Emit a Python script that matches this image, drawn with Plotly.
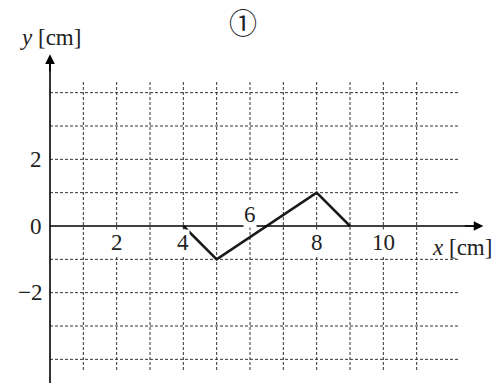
import plotly.graph_objects as go

# data
wave_x = [4, 5, 8, 9]
wave_y = [0, -1, 1, 0]
x_ticks = [2, 4, 6, 8, 10]
x_tick_labels = ["2", "4", "6", "8", "10"]
y_ticks = [2, 0, -2]
y_tick_labels = ["2", "0", "\u22122"]
grid_x = [1, 2, 3, 4, 5, 6, 7, 8, 9, 10, 11]
grid_y = [-4, -3, -2, -1, 1, 2, 3, 4]

FONT = "Liberation Serif, Times New Roman, DejaVu Serif, serif"
fig = go.Figure()

shapes = []
for gx in grid_x:
    shapes.append(dict(type="line", x0=gx, x1=gx, y0=-4.32, y1=4.38, xref="x", yref="y",
                       line=dict(color="#333", width=1, dash="3px,2px"), layer="below"))
for gy in grid_y:
    shapes.append(dict(type="line", x0=0, x1=12.25, y0=gy, y1=gy, xref="x", yref="y",
                       line=dict(color="#333", width=1, dash="3px,2px"), layer="below"))
shapes.append(dict(type="line", x0=0, x1=0, y0=-4.75, y1=5.0, xref="x", yref="y",
                   line=dict(color="black", width=1.6)))
shapes.append(dict(type="line", x0=0, x1=12.9, y0=0, y1=0, xref="x", yref="y",
                   line=dict(color="black", width=1.6)))

fig.add_trace(go.Scatter(x=wave_x, y=wave_y, mode="lines",
                         line=dict(color="#1a1a1a", width=2.6), showlegend=False,
                         hoverinfo="skip"))

ann = []
ann.append(dict(x=0, y=5.15, ax=0, ay=4.6, xref="x", yref="y", axref="x", ayref="y",
                showarrow=True, arrowhead=2, arrowsize=1.2, arrowwidth=1.6, arrowcolor="black", text=""))
ann.append(dict(x=13.0, y=0, ax=12.4, ay=0, xref="x", yref="y", axref="x", ayref="y",
                showarrow=True, arrowhead=2, arrowsize=1.2, arrowwidth=1.6, arrowcolor="black", text=""))
for xv, lab in zip(x_ticks, x_tick_labels):
    yy = 0.36 if xv == 6 else -0.5
    ann.append(dict(x=xv, y=yy, xref="x", yref="y", text=lab, showarrow=False,
                    font=dict(family=FONT, size=23, color="#222"), bgcolor="white", borderpad=0))
for yv, lab in zip(y_ticks, y_tick_labels):
    ann.append(dict(x=-0.18, y=yv, xref="x", yref="y", text=lab, showarrow=False, xanchor="right",
                    font=dict(family=FONT, size=23, color="#222")))
ann.append(dict(x=12.36, y=-0.63, xref="x", yref="y", text="<i>x</i> [cm]", showarrow=False,
                font=dict(family=FONT, size=23, color="#222")))
ann.append(dict(x=0.0, y=5.67, xref="x", yref="y", text="<i>y</i> [cm]", showarrow=False,
                font=dict(family=FONT, size=23, color="#222")))
ann.append(dict(x=5.78, y=6.12, xref="x", yref="y", text="\u2460", showarrow=False,
                font=dict(family="Noto Sans CJK JP", size=28, color="#222")))

fig.update_layout(
    width=498, height=383,
    margin=dict(l=0, r=0, t=0, b=0),
    plot_bgcolor="white", paper_bgcolor="white",
    shapes=shapes, annotations=ann,
    xaxis=dict(range=[-1.5, 13.44], visible=False, fixedrange=True),
    yaxis=dict(range=[-4.71, 6.78], visible=False, fixedrange=True),
    showlegend=False,
)
fig.write_html("out.html", config={"displayModeBar": False},
               post_script="document.body.style.margin='0';document.body.style.overflow='hidden';")
